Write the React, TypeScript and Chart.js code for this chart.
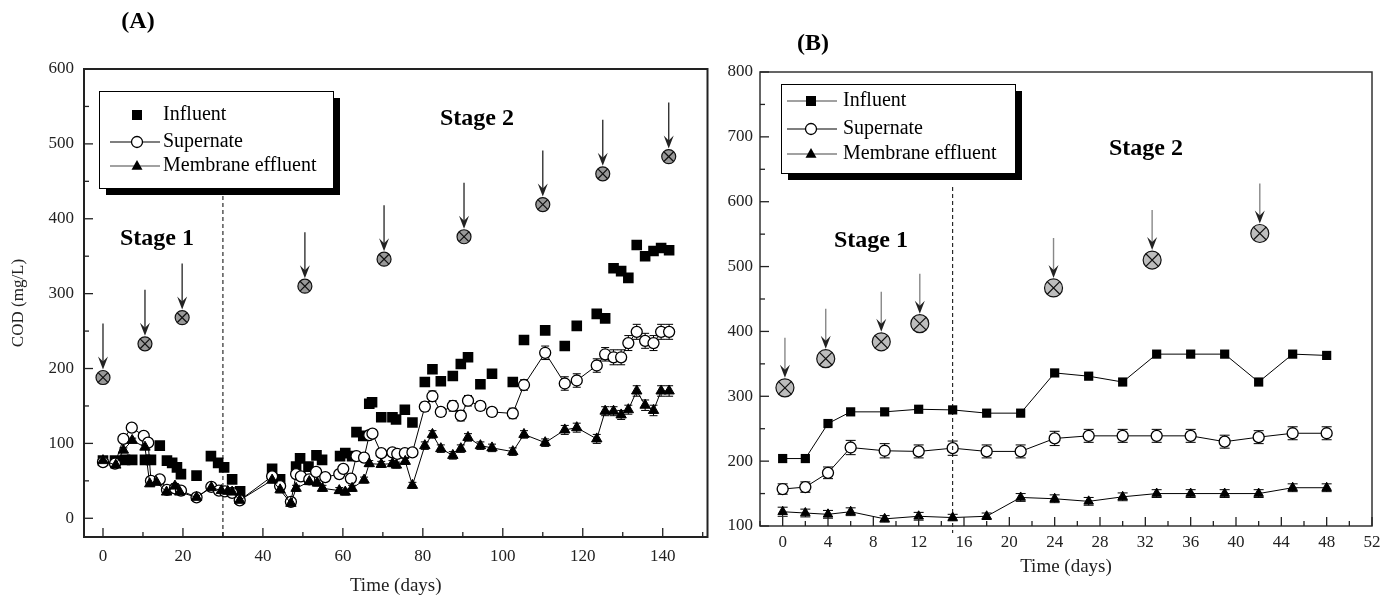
import React, { useEffect, useRef } from "react";
import { Chart, registerables } from "chart.js";
Chart.register(...registerables);

const FONT = '"Liberation Serif", "Times New Roman", serif';

// ---------- Panel A ----------
const xTicksA = [0, 20, 40, 60, 80, 100, 120, 140];
const xMinorA = [10, 30, 50, 70, 90, 110, 130, 150];
const yTicksA = [0, 100, 200, 300, 400, 500, 600];
const yMinorA = [50, 150, 250, 350, 450, 550];

const influentA: [number, number][] = [
  [0, 77], [3, 77], [5.5, 78], [7.3, 78], [10.5, 78], [12, 78], [14.2, 97], [16, 77], [17.3, 74],
  [18.5, 68], [19.5, 59], [23.4, 57], [27, 83], [28.8, 74], [30.3, 68], [32.3, 52], [34.3, 36],
  [42.3, 66], [44.3, 52], [48.3, 69], [49.3, 80], [51.4, 69], [53.4, 84], [54.8, 78], [59.3, 83],
  [60.6, 87], [62.3, 83], [63.4, 115], [65.1, 110], [66.6, 153], [67.3, 155], [69.6, 135],
  [72.4, 135], [73.3, 132], [75.5, 145], [77.4, 128], [80.5, 182], [82.4, 199], [84.5, 183],
  [87.5, 190], [89.5, 206], [91.3, 215], [94.4, 179], [97.3, 193], [102.5, 182], [105.3, 238],
  [110.6, 251], [115.5, 230], [118.5, 257], [123.5, 273], [125.6, 267], [127.7, 334], [129.6, 330],
  [131.4, 321], [133.5, 365], [135.6, 350], [137.7, 357], [139.6, 361], [141.6, 358],
];

// [day, COD, error]
const supernateA: [number, number, number][] = [
  [0, 75, 2], [3, 73, 2], [5.1, 106, 3], [7.2, 121, 3], [10.2, 110, 3], [11.3, 101, 3], [12, 50, 3],
  [14.2, 52, 3], [16, 38, 3], [18, 40, 3], [19.5, 37, 3], [23.4, 28, 3], [27.1, 42, 3], [29, 37, 3],
  [30.5, 36, 3], [32.3, 34, 3], [34.2, 24, 3], [42.3, 56, 4], [44.3, 43, 4], [47, 22, 4], [48.3, 59, 4],
  [49.5, 56, 4], [51.6, 52, 4], [53.3, 62, 4], [55.6, 55, 4], [59.1, 59, 4], [60.1, 66, 4], [62, 53, 4],
  [63.4, 83, 4], [65.3, 81, 4], [66.6, 111, 5], [67.4, 113, 5], [69.6, 87, 5], [72.4, 88, 5],
  [73.6, 86, 5], [75.5, 87, 5], [77.4, 88, 5], [80.5, 149, 6], [82.4, 163, 7], [84.5, 142, 6],
  [87.5, 150, 7], [89.5, 137, 7], [91.3, 157, 7], [94.4, 150, 6], [97.3, 142, 6], [102.5, 140, 7],
  [105.3, 178, 7], [110.6, 221, 9], [115.5, 180, 9], [118.5, 184, 9], [123.5, 204, 9], [125.6, 219, 9],
  [127.7, 215, 10], [129.6, 215, 10], [131.4, 234, 10], [133.5, 249, 10], [135.6, 237, 10],
  [137.7, 234, 10], [139.6, 249, 10], [141.6, 249, 10],
];

const effluentA: [number, number, number][] = [
  [0, 77, 2], [3.2, 71, 2], [5.1, 91, 3], [7.3, 104, 3], [10.5, 95, 3], [11.7, 46, 3], [13.4, 48, 3],
  [15.9, 35, 3], [18, 43, 3], [19.2, 35, 3], [23.4, 28, 3], [27.1, 41, 3], [29.6, 37, 3], [31.2, 36, 3],
  [32.3, 35, 3], [34.2, 24, 3], [42.3, 51, 4], [44.3, 38, 4], [47, 20, 4], [48.3, 40, 4], [51.6, 49, 4],
  [53.6, 47, 4], [54.9, 40, 4], [59.1, 37, 4], [60.6, 35, 4], [62.3, 40, 4], [65.3, 51, 4], [66.6, 73, 4],
  [69.6, 72, 4], [72.4, 73, 4], [73.4, 71, 4], [75.6, 76, 4], [77.4, 44, 4], [80.5, 97, 5],
  [82.4, 112, 5], [84.5, 93, 5], [87.5, 84, 5], [89.5, 93, 5], [91.3, 108, 5], [94.4, 97, 5],
  [97.3, 94, 5], [102.5, 89, 5], [105.3, 112, 5], [110.6, 101, 5], [115.5, 118, 6], [118.5, 121, 6],
  [123.5, 106, 6], [125.6, 143, 6], [127.7, 143, 6], [129.6, 138, 6], [131.4, 145, 6], [133.5, 170, 7],
  [135.6, 151, 7], [137.7, 144, 7], [139.6, 170, 7], [141.6, 170, 7],
];

const eventsA: [number, number][] = [
  [0, 188], [10.5, 233], [19.8, 268], [50.5, 310], [70.3, 346], [90.3, 376], [110, 419], [125, 460], [141.5, 483],
];

// ---------- Panel B ----------
const xTicksB = [0, 4, 8, 12, 16, 20, 24, 28, 32, 36, 40, 44, 48, 52];
const xMinorB = [-2, 2, 6, 10, 14, 18, 22, 26, 30, 34, 38, 42, 46, 50];
const yTicksB = [100, 200, 300, 400, 500, 600, 700, 800];
const yMinorB = [150, 250, 350, 450, 550, 650, 750];

const daysB = [0, 2, 4, 6, 9, 12, 15, 18, 21, 24, 27, 30, 33, 36, 39, 42, 45, 48];
const influentB = [204, 204, 258, 276, 276, 280, 279, 274, 274, 336, 331, 322, 365, 365, 365, 322, 365, 363];
const supernateB = [157, 160, 182, 221, 216, 215, 220, 215, 215, 235, 239, 239, 239, 239, 230, 237, 243, 243];
const supernateErrB = [8, 8, 9, 11, 11, 10, 11, 10, 10, 11, 10, 10, 10, 10, 10, 10, 10, 10];
const effluentB = [122, 120, 118, 122, 111, 115, 113, 115, 144, 142, 138, 145, 150, 150, 150, 150, 159, 159];
const effluentErrB = [7, 6, 6, 6, 5, 6, 5, 5, 6, 6, 6, 6, 6, 6, 6, 6, 6, 6];
const eventsB: [number, number][] = [
  [0.2, 313], [3.8, 358], [8.7, 384], [12.1, 412], [23.9, 467], [32.6, 510], [42.1, 551],
];

const legendLabels = ["Influent", "Supernate", "Membrane effluent"];

// ---------- drawing helpers ----------
function drawSymbol(ctx: CanvasRenderingContext2D, kind: string, x: number, y: number, s: number) {
  ctx.save();
  ctx.lineWidth = 1.3;
  ctx.strokeStyle = "#000";
  if (kind === "square") {
    ctx.fillStyle = "#000";
    ctx.fillRect(x - s, y - s, 2 * s, 2 * s);
  } else if (kind === "circle") {
    ctx.fillStyle = "#fff";
    ctx.beginPath();
    ctx.arc(x, y, s, 0, Math.PI * 2);
    ctx.fill();
    ctx.stroke();
  } else {
    ctx.fillStyle = "#000";
    ctx.beginPath();
    ctx.moveTo(x, y - s * 1.1);
    ctx.lineTo(x + s, y + s * 0.7);
    ctx.lineTo(x - s, y + s * 0.7);
    ctx.closePath();
    ctx.fill();
  }
  ctx.restore();
}

function drawLegend(ctx: CanvasRenderingContext2D, bx: number, by: number, bw: number, bh: number,
  rows: number[], lineX0: number, lineX1: number, symX: number, textX: number, influentLine: boolean) {
  ctx.save();
  ctx.fillStyle = "#000";
  ctx.fillRect(bx + 7, by + 7, bw, bh);
  ctx.fillStyle = "#fff";
  ctx.fillRect(bx, by, bw, bh);
  ctx.strokeStyle = "#000";
  ctx.lineWidth = 1;
  ctx.strokeRect(bx + 0.5, by + 0.5, bw, bh);
  const kinds = ["square", "circle", "triangle"];
  ctx.font = `20px ${FONT}`;
  ctx.textBaseline = "middle";
  ctx.textAlign = "left";
  for (let i = 0; i < 3; i++) {
    const y = rows[i];
    if (i > 0 || influentLine) {
      ctx.strokeStyle = i === 1 ? "#000" : "#444";
      ctx.lineWidth = 1.2;
      ctx.beginPath();
      ctx.moveTo(lineX0, y);
      ctx.lineTo(lineX1, y);
      ctx.stroke();
    }
    drawSymbol(ctx, kinds[i], symX, y, i === 0 ? 5 : 5.5);
    ctx.fillStyle = "#000";
    ctx.fillText(legendLabels[i], textX, y);
  }
  ctx.restore();
}

function drawEvent(ctx: CanvasRenderingContext2D, cx: number, cy: number, r: number, fill: string,
  lineColor: string, len: number) {
  const tip = cy - r - 1;
  ctx.save();
  ctx.strokeStyle = lineColor;
  ctx.lineWidth = 1.4;
  ctx.beginPath();
  ctx.moveTo(cx, cy - len);
  ctx.lineTo(cx, tip - 5);
  ctx.stroke();
  ctx.fillStyle = "#222";
  ctx.beginPath();
  ctx.moveTo(cx, tip);
  ctx.lineTo(cx - 5, tip - 13);
  ctx.lineTo(cx, tip - 8);
  ctx.lineTo(cx + 5, tip - 13);
  ctx.closePath();
  ctx.fill();
  ctx.beginPath();
  ctx.arc(cx, cy, r, 0, Math.PI * 2);
  ctx.fillStyle = fill;
  ctx.fill();
  ctx.strokeStyle = "#111";
  ctx.lineWidth = 1.2;
  ctx.stroke();
  const d = r * 0.7;
  ctx.beginPath();
  ctx.moveTo(cx - d, cy - d);
  ctx.lineTo(cx + d, cy + d);
  ctx.moveTo(cx + d, cy - d);
  ctx.lineTo(cx - d, cy + d);
  ctx.stroke();
  ctx.restore();
}

type DecorCfg = {
  frameWidth: number;
  frameColor: string;
  xMajor: number[]; xMinor: number[]; yMajor: number[]; yMinor: number[];
  stageX: number; dashTop: number; dashExtra: number;
  events: [number, number][]; eventR: number; eventFill: string; eventLine: string; eventLen: number;
  errSets: { data: { x: number; y: number; e: number }[]; cap: number }[];
  texts: { t: string; x: number; y: number }[];
  legend: { bx: number; by: number; bw: number; bh: number; rows: number[]; l0: number; l1: number; sx: number; tx: number; infLine: boolean };
};

function makeDecor(cfg: DecorCfg) {
  return {
    id: "decor",
    beforeDatasetsDraw(chart: any) {
      const ctx: CanvasRenderingContext2D = chart.ctx;
      const xs = chart.scales.x, ys = chart.scales.y;
      ctx.save();
      ctx.strokeStyle = "#000";
      ctx.lineWidth = 1;
      for (const set of cfg.errSets) {
        for (const p of set.data) {
          const px = xs.getPixelForValue(p.x);
          const y0 = ys.getPixelForValue(p.y - p.e);
          const y1 = ys.getPixelForValue(p.y + p.e);
          ctx.beginPath();
          ctx.moveTo(px, y0); ctx.lineTo(px, y1);
          ctx.moveTo(px - set.cap, y0); ctx.lineTo(px + set.cap, y0);
          ctx.moveTo(px - set.cap, y1); ctx.lineTo(px + set.cap, y1);
          ctx.stroke();
        }
      }
      ctx.restore();
    },
    afterDatasetsDraw(chart: any) {
      const ctx: CanvasRenderingContext2D = chart.ctx;
      const a = chart.chartArea;
      const xs = chart.scales.x, ys = chart.scales.y;
      ctx.save();
      // dashed stage divider
      const sx = xs.getPixelForValue(cfg.stageX);
      ctx.setLineDash([4, 3]);
      ctx.strokeStyle = "#000";
      ctx.lineWidth = 1;
      ctx.beginPath();
      ctx.moveTo(sx, cfg.dashTop);
      ctx.lineTo(sx, a.bottom + cfg.dashExtra);
      ctx.stroke();
      ctx.setLineDash([]);
      // frame
      ctx.strokeStyle = cfg.frameColor;
      ctx.lineWidth = cfg.frameWidth;
      ctx.strokeRect(a.left, a.top, a.right - a.left, a.bottom - a.top);
      // inward ticks
      ctx.lineWidth = 1.3;
      ctx.strokeStyle = "#222";
      const tick = (vals: number[], len: number, axis: "x" | "y") => {
        for (const v of vals) {
          ctx.beginPath();
          if (axis === "x") {
            const p = xs.getPixelForValue(v);
            if (p < a.left || p > a.right) continue;
            ctx.moveTo(p, a.bottom); ctx.lineTo(p, a.bottom - len);
          } else {
            const p = ys.getPixelForValue(v);
            if (p < a.top || p > a.bottom) continue;
            ctx.moveTo(a.left, p); ctx.lineTo(a.left + len, p);
          }
          ctx.stroke();
        }
      };
      tick(cfg.xMajor, 9, "x");
      tick(cfg.xMinor, 5, "x");
      tick(cfg.yMajor, 9, "y");
      tick(cfg.yMinor, 5, "y");
      // events with arrows
      for (const [ex, ey] of cfg.events) {
        drawEvent(ctx, xs.getPixelForValue(ex), ys.getPixelForValue(ey), cfg.eventR, cfg.eventFill, cfg.eventLine, cfg.eventLen);
      }
      // texts
      ctx.fillStyle = "#000";
      ctx.font = `bold 24px ${FONT}`;
      ctx.textAlign = "center";
      ctx.textBaseline = "middle";
      for (const t of cfg.texts) ctx.fillText(t.t, t.x, t.y);
      const L = cfg.legend;
      drawLegend(ctx, L.bx, L.by, L.bw, L.bh, L.rows, L.l0, L.l1, L.sx, L.tx, L.infLine);
      ctx.restore();
    },
  };
}

const tickFont = { family: FONT, size: 17 };

function setTicks(vals: number[]) {
  return (axis: any) => {
    axis.ticks = vals.map((v) => ({ value: v }));
  };
}

export default function App() {
  const refA = useRef<HTMLCanvasElement>(null);
  const refB = useRef<HTMLCanvasElement>(null);

  useEffect(() => {
    const chartA = new Chart(refA.current as HTMLCanvasElement, {
      type: "scatter",
      data: {
        datasets: [
          {
            label: "Membrane effluent",
            data: effluentA.map(([x, y]) => ({ x, y })),
            showLine: true, borderColor: "#000", borderWidth: 1,
            pointStyle: "triangle", pointRadius: 6, backgroundColor: "#000", pointBorderColor: "#000", pointBorderWidth: 1,
          },
          {
            label: "Supernate",
            data: supernateA.map(([x, y]) => ({ x, y })),
            showLine: true, borderColor: "#000", borderWidth: 1,
            pointStyle: "circle", pointRadius: 5.5, backgroundColor: "#fff", pointBackgroundColor: "#fff", pointBorderColor: "#000", pointBorderWidth: 1.3,
          },
          {
            label: "Influent",
            data: influentA.map(([x, y]) => ({ x, y })),
            showLine: false,
            pointStyle: "rect", pointRadius: 7.5, backgroundColor: "#000", pointBorderColor: "#000", pointBorderWidth: 0,
          },
        ],
      },
      options: {
        animation: false,
        responsive: false,
        devicePixelRatio: 1,
        layout: { padding: { left: 0, right: 6, top: 69, bottom: 0 } },
        plugins: { legend: { display: false }, tooltip: { enabled: false } },
        scales: {
          x: {
            type: "linear", min: -4.75, max: 151.2,
            afterBuildTicks: setTicks(xTicksA),
            afterFit: (s: any) => { s.height = 67; },
            grid: { display: false, drawTicks: false },
            border: { display: false },
            ticks: { font: tickFont, color: "#222", padding: 9 },
            title: { display: true, text: "Time (days)", font: { family: FONT, size: 19 }, color: "#222", padding: { bottom: 7 } },
          },
          y: {
            type: "linear", min: -25, max: 600,
            afterBuildTicks: setTicks(yTicksA),
            afterFit: (s: any) => { s.width = 84; },
            grid: { display: false, drawTicks: false },
            border: { display: false },
            ticks: { font: tickFont, color: "#222", padding: 10 },
            title: { display: true, text: "COD (mg/L)", font: { family: FONT, size: 17 }, color: "#222", padding: { top: 8 } },
          },
        },
      },
      plugins: [makeDecor({
        frameWidth: 2, frameColor: "#222",
        xMajor: xTicksA, xMinor: xMinorA, yMajor: yTicksA, yMinor: yMinorA,
        stageX: 30, dashTop: 196, dashExtra: 0,
        events: eventsA, eventR: 7, eventFill: "#999", eventLine: "#333", eventLen: 54,
        errSets: [
          { data: supernateA.map(([x, y, e]) => ({ x, y, e })), cap: 4 },
          { data: effluentA.map(([x, y, e]) => ({ x, y, e })), cap: 4 },
        ],
        texts: [
          { t: "(A)", x: 138, y: 22 },
          { t: "Stage 1", x: 157, y: 239 },
          { t: "Stage 2", x: 477, y: 119 },
        ],
        legend: { bx: 99, by: 91, bw: 234, bh: 97, rows: [115, 142, 166], l0: 110, l1: 160, sx: 137, tx: 163, infLine: false },
      }) as any],
    } as any);

    const chartB = new Chart(refB.current as HTMLCanvasElement, {
      type: "scatter",
      data: {
        datasets: [
          {
            label: "Membrane effluent",
            data: daysB.map((x, i) => ({ x, y: effluentB[i] })),
            showLine: true, borderColor: "#000", borderWidth: 1,
            pointStyle: "triangle", pointRadius: 5.5, backgroundColor: "#000", pointBorderColor: "#000", pointBorderWidth: 1,
          },
          {
            label: "Supernate",
            data: daysB.map((x, i) => ({ x, y: supernateB[i] })),
            showLine: true, borderColor: "#000", borderWidth: 1,
            pointStyle: "circle", pointRadius: 5.5, backgroundColor: "#fff", pointBackgroundColor: "#fff", pointBorderColor: "#000", pointBorderWidth: 1.3,
          },
          {
            label: "Influent",
            data: daysB.map((x, i) => ({ x, y: influentB[i] })),
            showLine: true, borderColor: "#000", borderWidth: 1,
            pointStyle: "rect", pointRadius: 6.5, backgroundColor: "#000", pointBorderColor: "#000", pointBorderWidth: 0,
          },
        ],
      },
      options: {
        animation: false,
        responsive: false,
        devicePixelRatio: 1,
        layout: { padding: { left: 0, right: 26, top: 72, bottom: 0 } },
        plugins: { legend: { display: false }, tooltip: { enabled: false } },
        scales: {
          x: {
            type: "linear", min: -2, max: 52,
            afterBuildTicks: setTicks(xTicksB),
            afterFit: (s: any) => { s.height = 78; },
            grid: { display: false, drawTicks: false },
            border: { display: false },
            ticks: { font: tickFont, color: "#222", padding: 6 },
            title: { display: true, text: "Time (days)", font: { family: FONT, size: 19 }, color: "#222", padding: { bottom: 26 } },
          },
          y: {
            type: "linear", min: 100, max: 800,
            afterBuildTicks: setTicks(yTicksB),
            afterFit: (s: any) => { s.width = 45; },
            grid: { display: false, drawTicks: false },
            border: { display: false },
            ticks: { font: tickFont, color: "#222", padding: 7 },
            title: { display: false },
          },
        },
      },
      plugins: [makeDecor({
        frameWidth: 1.5, frameColor: "#333",
        xMajor: xTicksB, xMinor: xMinorB, yMajor: yTicksB, yMinor: yMinorB,
        stageX: 15, dashTop: 187, dashExtra: 7,
        events: eventsB, eventR: 9, eventFill: "#bdbdbd", eventLine: "#888", eventLen: 50,
        errSets: [
          { data: daysB.map((x, i) => ({ x, y: supernateB[i], e: supernateErrB[i] })), cap: 5 },
          { data: daysB.map((x, i) => ({ x, y: effluentB[i], e: effluentErrB[i] })), cap: 5 },
        ],
        texts: [
          { t: "(B)", x: 98, y: 44 },
          { t: "Stage 1", x: 156, y: 241 },
          { t: "Stage 2", x: 431, y: 149 },
        ],
        legend: { bx: 66, by: 84, bw: 234, bh: 89, rows: [101, 129, 154], l0: 72, l1: 122, sx: 96, tx: 128, infLine: true },
      }) as any],
    } as any);

    return () => {
      chartA.destroy();
      chartB.destroy();
    };
  }, []);

  return (
    <div>
      <canvas ref={refA} width={715} height={604} style={{ position: "absolute", left: 0, top: 0, width: 715, height: 604 }} />
      <canvas ref={refB} width={683} height={604} style={{ position: "absolute", left: 715, top: 0, width: 683, height: 604 }} />
    </div>
  );
}
